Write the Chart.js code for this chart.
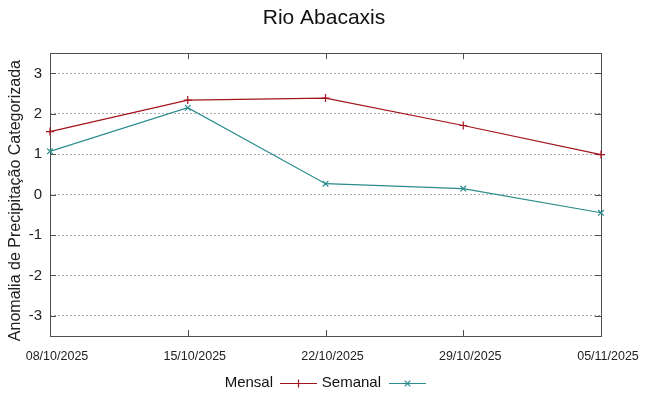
<!DOCTYPE html>
<html lang="pt">
<head>
<meta charset="utf-8">
<title>Rio Abacaxis</title>
<script src="https://cdn.jsdelivr.net/npm/chart.js@4.4.1/dist/chart.umd.min.js"></script>
<style>
  html, body {
    margin: 0;
    padding: 0;
    background: #ffffff;
  }
  #chart {
    display: block;
  }
</style>
</head>
<body>
<canvas id="chart" width="648" height="396"></canvas>
<script>
"use strict";

//Dates on the x axis
const DATES = ["08/10/2025", "15/10/2025", "22/10/2025", "29/10/2025", "05/11/2025"];
//Series values
const MENSAL = [1.56, 2.34, 2.39, 1.71, 0.99];
const SEMANAL = [1.07, 2.15, 0.27, 0.15, -0.45];
//Y tick labels
const Y_TICKS = [-3, -2, -1, 0, 1, 2, 3];

(function () {
  const FONT = "'Liberation Sans', Arial, sans-serif";
  const RED = "#a3141c";
  const TEAL = "#2a8c8c";
  const FRAME = "#505050";

  window.addEventListener("load", init);

  function init() {
    new Chart(id("chart"), {
      type: "line",
      data: {
        labels: DATES,
        datasets: [
          makeSet("Mensal", MENSAL, RED, "cross"),
          makeSet("Semanal", SEMANAL, TEAL, "crossRot")
        ]
      },
      options: {
        responsive: false,
        animation: false,
        layout: {
          padding: 0
        },
        scales: {
          x: {
            offset: false,
            grid: { display: false, drawTicks: false },
            border: { display: false },
            ticks: {
              color: "#222222",
              font: { family: FONT, size: 12.5 },
              padding: 13,
              labelOffset: 7,
              maxRotation: 0,
              autoSkip: false
            },
            afterFit: scale => { scale.height = 60; }
          },
          y: {
            min: -3.5,
            max: 3.5,
            afterBuildTicks: scale => {
              scale.ticks = Y_TICKS.map(v => ({ value: v }));
            },
            afterFit: scale => {
              scale.width = 50;
              shiftTitle(scale, 6);
            },
            grid: {
              color: "#aaaaaa",
              lineWidth: 1,
              drawTicks: false
            },
            border: { display: false, dash: [2, 2] },
            ticks: {
              color: "#222222",
              font: { family: FONT, size: 15 },
              padding: 8
            },
            title: {
              display: true,
              text: "Anomalia de Precipitação Categorizada",
              color: "#222222",
              font: { family: FONT, size: 16 },
              padding: { top: 6, bottom: 0 }
            }
          },
          //empty right axis, only keeps the space on the right of the box
          yRight: {
            position: "right",
            min: -3.5,
            max: 3.5,
            grid: { display: false, drawTicks: false },
            border: { display: false },
            ticks: { display: false },
            afterFit: scale => { scale.width = 47; }
          }
        },
        plugins: {
          legend: { display: false },
          tooltip: { enabled: false },
          title: {
            display: true,
            text: "Rio Abacaxis",
            color: "#111111",
            font: { family: FONT, size: 21, weight: "normal" },
            padding: { top: 6, bottom: 22 }
          }
        }
      },
      plugins: [frame, keyBox]
    });
  }

  function makeSet(label, values, color, style) {
    return {
      label: label,
      data: values,
      borderColor: color,
      backgroundColor: color,
      borderWidth: 1.2,
      tension: 0,
      fill: false,
      clip: 8,
      pointStyle: style,
      pointRadius: 4,
      pointBorderWidth: 1.2
    };
  }

  //moves the axis title a few pixels down, gnuplot puts it a bit lower
  function shiftTitle(scale, dy) {
    if (scale.shifted) {
      return;
    }
    let orig = scale.drawTitle.bind(scale);
    scale.drawTitle = function () {
      scale.ctx.save();
      scale.ctx.translate(0, dy);
      orig();
      scale.ctx.restore();
    };
    scale.shifted = true;
  }

  //gnuplot-like box with inward ticks on all four sides
  const frame = {
    id: "frame",
    beforeDatasetsDraw(chart) {
      let ctx = chart.ctx;
      let area = chart.chartArea;
      let xs = chart.scales.x;
      let ys = chart.scales.y;
      ctx.save();
      ctx.strokeStyle = FRAME;
      ctx.lineWidth = 1;
      ctx.strokeRect(Math.round(area.left) + 0.5, Math.round(area.top) + 0.5,
        Math.round(area.right - area.left), Math.round(area.bottom - area.top));
      ctx.beginPath();
      DATES.forEach((d, i) => {
        let x = Math.round(xs.getPixelForValue(i)) + 0.5;
        ctx.moveTo(x, area.bottom);
        ctx.lineTo(x, area.bottom - 6);
        ctx.moveTo(x, area.top);
        ctx.lineTo(x, area.top + 6);
      });
      Y_TICKS.forEach(v => {
        let y = Math.round(ys.getPixelForValue(v)) + 0.5;
        ctx.moveTo(area.left, y);
        ctx.lineTo(area.left + 6, y);
        ctx.moveTo(area.right, y);
        ctx.lineTo(area.right - 6, y);
      });
      ctx.stroke();
      ctx.restore();
    }
  };

  //legend with the text first and the line sample after it
  const keyBox = {
    id: "keyBox",
    afterDraw(chart) {
      let ctx = chart.ctx;
      let y = 383.5;
      let entries = [
        { textEnd: 273, lineStart: 280, set: chart.data.datasets[0] },
        { textEnd: 381, lineStart: 389, set: chart.data.datasets[1] }
      ];
      ctx.save();
      ctx.font = "15px " + FONT;
      ctx.textAlign = "right";
      ctx.textBaseline = "middle";
      entries.forEach(e => {
        ctx.fillStyle = "#111111";
        ctx.fillText(e.set.label, e.textEnd, y - 1);
        ctx.strokeStyle = e.set.borderColor;
        ctx.lineWidth = 1.2;
        ctx.beginPath();
        ctx.moveTo(e.lineStart, y);
        ctx.lineTo(e.lineStart + 37, y);
        ctx.stroke();
        Chart.helpers.drawPoint(ctx, {
          pointStyle: e.set.pointStyle,
          radius: 4,
          borderWidth: 1.2
        }, e.lineStart + 18.5, y);
      });
      ctx.restore();
    }
  };

  /**
   * Returns the element that has the ID attribute with the specified value.
   * @param {string} id - element ID.
   * @returns {object} - DOM object associated with id.
   */
  function id(id) {
    return document.getElementById(id);
  }
})();
</script>
</body>
</html>
